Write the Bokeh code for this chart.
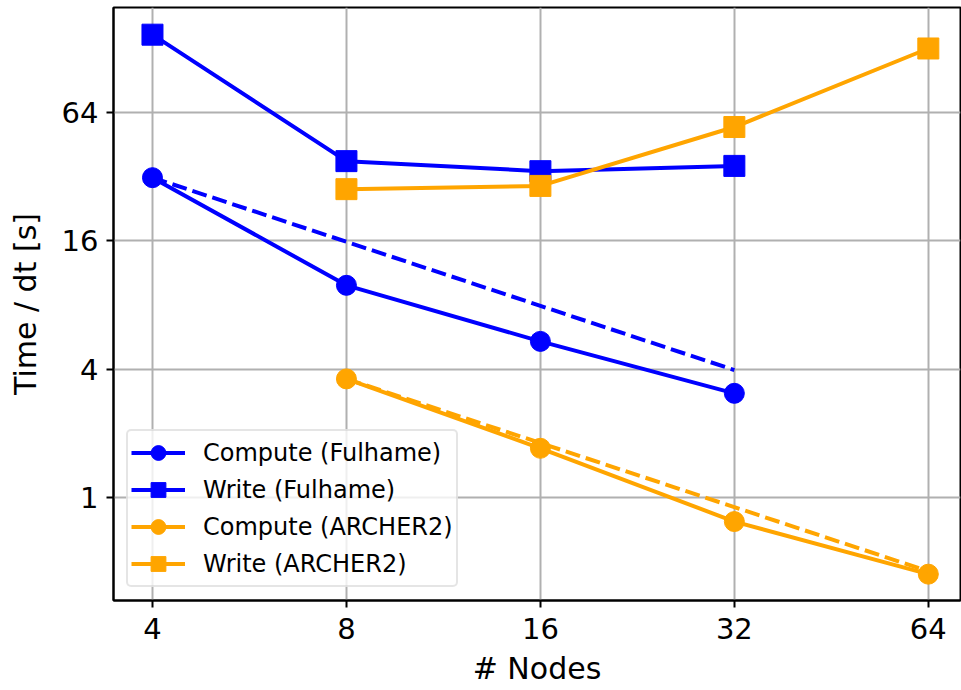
from bokeh.plotting import figure
from bokeh.models import FixedTicker, Legend, LegendItem, Range1d
from bokeh.embed import file_html
from bokeh.resources import INLINE

# ---- data ----
nodes_fulhame = [4, 8, 16, 32]
nodes_archer = [8, 16, 32, 64]
compute_fulhame = [31.7, 9.9, 5.4, 3.08]
write_fulhame = [148.7, 37.9, 34.0, 36.0]
ideal_fulhame = [31.7, 15.85, 7.93, 3.96]
compute_archer = [3.6, 1.70, 0.77, 0.436]
write_archer = [28.0, 29.0, 54.8, 128.1]
ideal_archer = [3.6, 1.8, 0.9, 0.45]
x_ticks = [4, 8, 16, 32, 64]
y_ticks = [1, 4, 16, 64]

BLUE = "#0000ff"
ORANGE = "#ffa500"
FONT = "DejaVu Sans"

p = figure(width=961, height=690, x_axis_type="log", y_axis_type="log",
           output_backend="svg", toolbar_location=None,
           x_range=Range1d(3.48, 71.8), y_range=Range1d(0.328, 199.5),
           min_border_left=113, min_border_right=1, min_border_top=7,
           min_border_bottom=90)
p.background_fill_color = "white"
p.border_fill_color = "white"
p.outline_line_color = "black"
p.outline_line_width = 2
p.outline_line_alpha = 1

for ax, ticks in ((p.xaxis[0], x_ticks), (p.yaxis[0], y_ticks)):
    ax.ticker = FixedTicker(ticks=ticks)
    ax.major_label_overrides = {t: str(t) for t in ticks}
    ax.minor_tick_line_color = None
    ax.major_tick_in = 0
    ax.major_tick_out = 7
    ax.major_tick_line_width = 2
    ax.axis_line_width = 2
    ax.axis_line_color = "black"
    ax.major_label_text_font = FONT
    ax.major_label_text_font_size = "29px"
    ax.major_label_text_color = "black"
    ax.axis_label_text_font = FONT
    ax.axis_label_text_font_size = "30px"
    ax.axis_label_text_font_style = "normal"
    ax.axis_label_text_color = "black"

p.xaxis.axis_label = "# Nodes"
p.yaxis.axis_label = "Time / dt [s]"
p.xaxis.major_label_standoff = 10
p.xaxis.axis_label_standoff = 9
p.yaxis.major_label_standoff = 8
p.yaxis.axis_label_standoff = 16

for g, ticks in ((p.xgrid[0], x_ticks), (p.ygrid[0], y_ticks)):
    g.ticker = FixedTicker(ticks=ticks)
    g.grid_line_color = "#b0b0b0"
    g.grid_line_width = 2
    g.minor_grid_line_color = None

LW = 4
l1 = p.line(nodes_fulhame, compute_fulhame, line_color=BLUE, line_width=LW)
s1 = p.scatter(nodes_fulhame, compute_fulhame, marker="circle", size=20, color=BLUE)
l2 = p.line(nodes_fulhame, write_fulhame, line_color=BLUE, line_width=LW)
s2 = p.scatter(nodes_fulhame, write_fulhame, marker="square", size=21, color=BLUE)
p.line(nodes_fulhame, ideal_fulhame, line_color=BLUE, line_width=LW, line_dash="15 6")
l3 = p.line(nodes_archer, compute_archer, line_color=ORANGE, line_width=LW)
s3 = p.scatter(nodes_archer, compute_archer, marker="circle", size=20, color=ORANGE)
l4 = p.line(nodes_archer, write_archer, line_color=ORANGE, line_width=LW)
s4 = p.scatter(nodes_archer, write_archer, marker="square", size=21, color=ORANGE)
p.line(nodes_archer, ideal_archer, line_color=ORANGE, line_width=LW, line_dash="15 6")

legend = Legend(items=[
    LegendItem(label="Compute (Fulhame)", renderers=[l1, s1]),
    LegendItem(label="Write (Fulhame)", renderers=[l2, s2]),
    LegendItem(label="Compute (ARCHER2)", renderers=[l3, s3]),
    LegendItem(label="Write (ARCHER2)", renderers=[l4, s4]),
], location="bottom_left")
legend.label_text_font = FONT
legend.label_text_font_size = "24px"
legend.label_text_color = "black"
legend.glyph_width = 54
legend.glyph_height = 37
legend.label_height = 37
legend.spacing = 0
legend.padding = 3
legend.margin = 13
legend.label_standoff = 18
legend.border_line_color = "#cccccc"
legend.border_line_width = 2
legend.background_fill_color = "white"
legend.background_fill_alpha = 0.8
if "border_radius" in legend.properties():
    legend.border_radius = 5
p.add_layout(legend)

open("out.html", "w").write(file_html(p, INLINE))
